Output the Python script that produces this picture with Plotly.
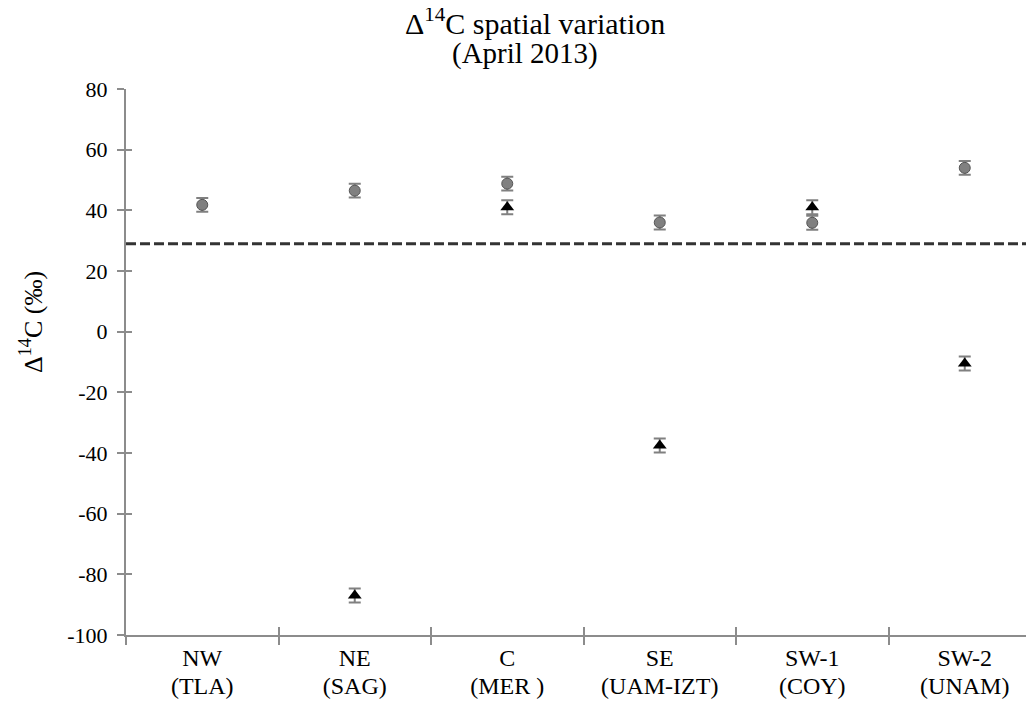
import plotly.graph_objects as go

region_codes = ["NW", "NE", "C", "SE", "SW-1", "SW-2"]
station_codes = ["(TLA)", "(SAG)", "(MER )", "(UAM-IZT)", "(COY)", "(UNAM)"]
site_pos = [0, 1, 2, 3, 4, 5]
circle_vals = [41.8, 46.5, 48.8, 36.0, 35.9, 54.0]
circle_err = [2.3, 2.3, 2.3, 2.3, 2.3, 2.3]
tri_pos = [1, 2, 3, 4, 5]
tri_vals = [-87.0, 41.0, -37.5, 41.0, -10.5]
tri_err = [2.3, 2.3, 2.3, 2.3, 2.3]
baseline_x = [-0.5, 5.5]
baseline_y = [29, 29]
boundaries = [-0.5, 0.5, 1.5, 2.5, 3.5, 4.5, 5.5]
y_ticks = [-100, -80, -60, -40, -20, 0, 20, 40, 60, 80]
y_ticktext = ["-100", "-80", "-60", "-40", "-20", "0", "20", "40", "60", "80"]

FONT = "Liberation Serif"
AXC = "#8c8c8c"

fig = go.Figure()
fig.add_trace(go.Scatter(x=baseline_x, y=baseline_y, mode="lines",
                         line=dict(color="#333333", width=3, dash="10px,4px"),
                         showlegend=False, hoverinfo="skip"))
fig.add_trace(go.Scatter(x=site_pos, y=circle_vals, mode="markers",
                         marker=dict(symbol="circle", size=11, color="#808080",
                                     line=dict(color="#555555", width=1)),
                         error_y=dict(type="data", array=circle_err, color="#808080",
                                      thickness=2, width=6),
                         showlegend=False))
fig.add_trace(go.Scatter(x=tri_pos, y=tri_vals, mode="markers",
                         marker=dict(symbol="triangle-up", size=12, color="#000000"),
                         error_y=dict(type="data", array=tri_err, color="#808080",
                                      thickness=2, width=6),
                         showlegend=False))
# invisible traces hosting the overlay axes (inner ticks, second label line)
fig.add_trace(go.Scatter(x=[boundaries[0]], y=[0], xaxis="x2", yaxis="y2", mode="markers",
                         marker=dict(opacity=0), showlegend=False, hoverinfo="skip"))
fig.add_trace(go.Scatter(x=[boundaries[0]], y=[0], xaxis="x3", mode="markers",
                         marker=dict(opacity=0), showlegend=False, hoverinfo="skip"))

xr = [-0.5, -0.5 + (1034 - 126) / 152.5]
yr = [-100, 80]
fig.update_layout(
    width=1026, height=700,
    margin=dict(l=118, r=0, t=81, b=73),
    plot_bgcolor="white", paper_bgcolor="white",
    font=dict(family=FONT, size=20, color="black"),
    xaxis=dict(range=xr, tickmode="array", tickvals=site_pos, ticktext=region_codes,
               ticks="", showgrid=False, zeroline=False,
               showline=True, linecolor=AXC, linewidth=2,
               ticklabelstandoff=0,
               tickfont=dict(family=FONT, size=24, color="black"),
               minor=dict(tickmode="array", tickvals=boundaries, ticks="outside",
                          ticklen=8, tickcolor=AXC, tickwidth=1.5)),
    xaxis2=dict(range=xr, overlaying="x", anchor="y2", side="bottom",
                tickmode="array", tickvals=boundaries, ticks="inside",
                ticklen=8, tickcolor=AXC, tickwidth=1.5, showticklabels=False,
                showgrid=False, zeroline=False, showline=False),
    xaxis3=dict(range=xr, overlaying="x", anchor="y", side="bottom",
                tickmode="array", tickvals=site_pos, ticktext=station_codes,
                ticks="", ticklabelstandoff=34,
                tickfont=dict(family=FONT, size=24, color="black"),
                showgrid=False, zeroline=False, showline=False),
    yaxis=dict(range=yr, tickmode="array",
               tickvals=y_ticks, ticktext=y_ticktext,
               ticks="outside", ticklen=7, tickcolor=AXC, tickwidth=1.5,
               ticklabelstandoff=5,
               showgrid=False, zeroline=False,
               showline=True, linecolor=AXC, linewidth=2,
               tickfont=dict(family=FONT, size=22, color="black")),
    yaxis2=dict(range=yr, overlaying="y", anchor="x2", side="left",
                tickmode="array", tickvals=y_ticks, ticks="inside",
                ticklen=6, tickcolor=AXC, tickwidth=1.5, showticklabels=False,
                showgrid=False, zeroline=False, showline=False),
    annotations=[
        dict(text="Δ<sup>14</sup>C spatial variation",
             xref="paper", yref="paper", x=(535 - 126) / 908, y=1.0,
             yshift=68, xanchor="center", yanchor="middle", showarrow=False,
             borderpad=0,
             font=dict(family=FONT, size=30, color="black")),
        dict(text="(April 2013)",
             xref="paper", yref="paper", x=(525 - 126) / 908, y=1.0,
             yshift=36, xanchor="center", yanchor="middle", showarrow=False,
             borderpad=0,
             font=dict(family=FONT, size=29, color="black")),
        dict(text="Δ<sup>14</sup>C (‰)", textangle=-90,
             xref="paper", yref="paper", x=0, xshift=31 - 126, y=(635 - 322) / 546,
             xanchor="center", yanchor="middle", showarrow=False,
             font=dict(family=FONT, size=26, color="black")),
    ],
)
fig.write_html("out.html")
